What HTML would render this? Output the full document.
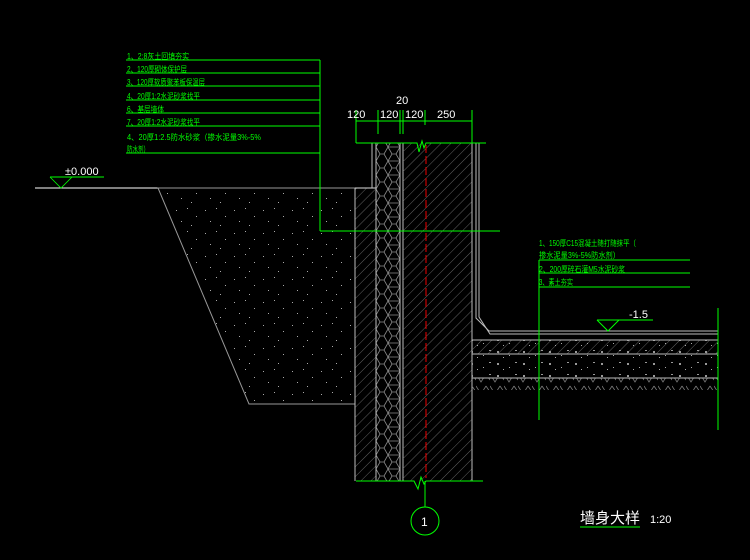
<!DOCTYPE html>
<html><head><meta charset="utf-8"><style>
html,body{margin:0;padding:0;background:#000;}
svg{display:block}
text{font-family:"Liberation Sans","Noto Sans CJK SC",sans-serif;}
</style></head><body>
<svg width="750" height="560" viewBox="0 0 750 560" xmlns="http://www.w3.org/2000/svg">
<defs>
<pattern id="hatch" width="7" height="7" patternUnits="userSpaceOnUse" patternTransform="rotate(45)">
<line x1="0" y1="0" x2="0" y2="7" stroke="#7a7a7a" stroke-width="0.8"/></pattern>
<pattern id="hex" x="376" y="0" width="24" height="14" patternUnits="userSpaceOnUse">
<path d="M0,7 L4,0 L8,0 L12,7 L8,14 L4,14 Z M12,7 L24,7 M16,0 L20,0 M16,14 L20,14" fill="none" stroke="#8a8a8a" stroke-width="0.8"/>
<path d="M12,7 L16,0 M12,7 L16,14 M20,0 L24,7 L20,14" fill="none" stroke="#8a8a8a" stroke-width="0.8"/></pattern>
<pattern id="dots" width="29" height="23" patternUnits="userSpaceOnUse">
<rect x="2" y="3" width="1" height="1" fill="#aaa"/><rect x="13" y="1" width="1" height="1" fill="#aaa"/>
<rect x="22" y="9" width="1" height="1" fill="#aaa"/><rect x="7" y="14" width="1" height="1" fill="#aaa"/>
<rect x="17" y="18" width="1" height="1" fill="#aaa"/></pattern>
<pattern id="gravel" width="26" height="12" patternUnits="userSpaceOnUse">
<rect x="3" y="3" width="2" height="2" fill="#999"/><rect x="15" y="7" width="1" height="1" fill="#aaa"/>
<rect x="21" y="2" width="2" height="1" fill="#999"/><rect x="9" y="9" width="1" height="1" fill="#aaa"/></pattern>
<pattern id="soil" width="14" height="12" patternUnits="userSpaceOnUse">
<path d="M0,2 L5,10 L10,2 M10,2 L14,8" fill="none" stroke="#7a7a7a" stroke-width="0.8"/></pattern>
</defs>

<line x1="35" y1="188" x2="158" y2="188" stroke="#fff" stroke-width="1"/>
<polygon points="158,188 355,188 355,404 249,404" fill="url(#dots)" stroke="#999" stroke-width="1"/>
<polyline points="50,177 72,177 61,188 50,177" fill="none" stroke="#0f0" stroke-width="0.8"/>
<line x1="50" y1="177" x2="104" y2="177" stroke="#0f0" stroke-width="1"/>
<text x="65" y="175" fill="#fff" font-size="11">±0.000</text>

<rect x="355" y="188" width="21" height="293" fill="url(#hatch)"/>
<line x1="355" y1="188" x2="355" y2="481" stroke="#bbb"/>
<line x1="355" y1="188" x2="376" y2="188" stroke="#ddd"/>
<line x1="372" y1="143" x2="372" y2="188" stroke="#bbb"/>
<rect x="376" y="143" width="24" height="338" fill="url(#hex)"/>
<line x1="376" y1="143" x2="376" y2="481" stroke="#bbb"/>
<line x1="400" y1="143" x2="400" y2="481" stroke="#bbb"/>
<line x1="403" y1="143" x2="403" y2="481" stroke="#bbb"/>
<rect x="403" y="143" width="69" height="338" fill="url(#hatch)"/>
<line x1="472" y1="143" x2="472" y2="481" stroke="#bbb"/>
<polyline points="476,143 476,318 489,331 718,331" fill="none" stroke="#bbb"/>
<polyline points="479,143 479,317 490,334 718,334" fill="none" stroke="#bbb"/>
<line x1="426" y1="145" x2="426" y2="478" stroke="#e00" stroke-width="1" stroke-dasharray="8,3"/>

<rect x="472" y="340" width="246" height="14" fill="url(#hatch)"/>
<rect x="472" y="340" width="246" height="14" fill="url(#gravel)"/>
<rect x="472" y="354" width="246" height="24" fill="url(#gravel)"/>
<rect x="472" y="378" width="246" height="12" fill="url(#soil)"/>
<line x1="472" y1="340" x2="718" y2="340" stroke="#bbb"/>
<line x1="472" y1="354" x2="718" y2="354" stroke="#bbb"/>
<line x1="472" y1="378" x2="718" y2="378" stroke="#bbb"/>
<line x1="718" y1="331" x2="718" y2="378" stroke="#bbb"/>

<g stroke="#0f0" stroke-width="1" fill="none">
<line x1="356" y1="121" x2="472" y2="121"/>
<line x1="356" y1="110" x2="356" y2="143"/>
<line x1="378" y1="110" x2="378" y2="134"/>
<line x1="400" y1="110" x2="400" y2="134"/>
<line x1="403" y1="110" x2="403" y2="134"/>
<line x1="425" y1="110" x2="425" y2="125"/>
<line x1="472" y1="110" x2="472" y2="143"/>
<polyline points="356,143 417,143 419,152 422,141 424,148 426,143 486,143"/>
<polyline points="356,481 414,481 418,489 421,477 424,484 426,481 483,481"/>
<line x1="425" y1="481" x2="425" y2="507"/>
<circle cx="425" cy="521" r="14"/>
<line x1="320" y1="60" x2="320" y2="231"/>
<line x1="320" y1="231" x2="500" y2="231"/>
<line x1="126" y1="60" x2="320" y2="60"/>
<line x1="126" y1="73" x2="320" y2="73"/>
<line x1="126" y1="86" x2="320" y2="86"/>
<line x1="126" y1="100" x2="320" y2="100"/>
<line x1="126" y1="113" x2="320" y2="113"/>
<line x1="126" y1="126" x2="320" y2="126"/>
<line x1="126" y1="153" x2="320" y2="153"/>
<line x1="539" y1="260" x2="539" y2="420"/>
<line x1="539" y1="260" x2="690" y2="260"/>
<line x1="539" y1="273" x2="690" y2="273"/>
<line x1="539" y1="287" x2="690" y2="287"/>
<line x1="718" y1="308" x2="718" y2="430"/>
<line x1="597" y1="320" x2="653" y2="320"/>
<polyline points="597,320 619,320 608,331 597,320"/>
<line x1="580" y1="527" x2="640" y2="527"/>
</g>
<g fill="#fff" font-size="11">
<text x="347" y="118">120</text>
<text x="380" y="118">120</text>
<text x="405" y="118">120</text>
<text x="437" y="118">250</text>
<text x="396" y="104">20</text>
<text x="629" y="318">-1.5</text>
<text x="421" y="526" font-size="12">1</text>
<text x="580" y="523" font-size="15">墙身大样</text>
<text x="650" y="523" font-size="11">1:20</text>
</g>
<g fill="#0f0" font-size="8">
<text x="127" y="59" textLength="62" lengthAdjust="spacingAndGlyphs">1、2:8灰土回填夯实</text>
<text x="127" y="72" textLength="60" lengthAdjust="spacingAndGlyphs">2、120厚砌体保护层</text>
<text x="127" y="85" textLength="78" lengthAdjust="spacingAndGlyphs">3、120厚软质聚苯板保温层</text>
<text x="127" y="99" textLength="73" lengthAdjust="spacingAndGlyphs">4、20厚1:2水泥砂浆找平</text>
<text x="127" y="112" textLength="37" lengthAdjust="spacingAndGlyphs">6、基层墙体</text>
<text x="127" y="125" textLength="73" lengthAdjust="spacingAndGlyphs">7、20厚1:2水泥砂浆找平</text>
<text x="127" y="140" textLength="134" lengthAdjust="spacingAndGlyphs">4、20厚1:2.5防水砂浆（掺水泥量3%-5%</text>
<text x="127" y="152" textLength="22" lengthAdjust="spacingAndGlyphs">防水剂）</text>
<text x="539" y="246" textLength="97" lengthAdjust="spacingAndGlyphs">1、150厚C15混凝土随打随抹平（</text>
<text x="539" y="258" textLength="81" lengthAdjust="spacingAndGlyphs">掺水泥量3%-5%防水剂）</text>
<text x="539" y="272" textLength="86" lengthAdjust="spacingAndGlyphs">2、200厚碎石灌M5水泥砂浆</text>
<text x="539" y="285" textLength="34" lengthAdjust="spacingAndGlyphs">3、素土夯实</text>
</g>
</svg>
</body></html>
